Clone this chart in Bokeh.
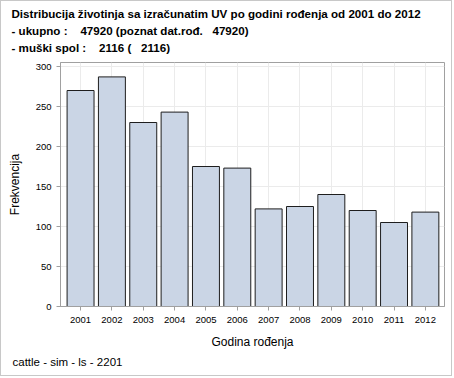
from bokeh.plotting import figure
from bokeh.models import Title, FixedTicker, Range1d
from bokeh.embed import file_html
from bokeh.resources import INLINE

years = [2001, 2002, 2003, 2004, 2005, 2006, 2007, 2008, 2009, 2010, 2011, 2012]
counts = [270, 287, 230, 243, 175, 173, 122, 125, 140, 120, 105, 118]
y_ticks = [0, 50, 100, 150, 200, 250, 300]
title_lines = [
    "Distribucija životinja sa izračunatim UV po godini rođenja od 2001 do 2012",
    "- ukupno :\u00a0\u00a0\u00a0\u00a047920 (poznat dat.rođ.\u00a0\u00a0\u00a047920)",
    "- muški spol :\u00a0\u00a0\u00a0\u00a02116 (\u00a0\u00a0\u00a02116)",
]
footnote = "cattle - sim - ls - 2201"
x_label = "Godina rođenja"
y_label = "Frekvencija"

FONT = "Liberation Sans"

p = figure(width=452, height=376, output_backend="svg", toolbar_location=None,
           x_range=Range1d(2000.36, 2012.61), y_range=Range1d(0, 305),
           min_border_left=59, min_border_right=9, min_border_top=61, min_border_bottom=71)
p.styles = {"border": "1px solid #c8c8c8"}
p.background_fill_color = "white"
p.border_fill_color = "white"
p.outline_line_color = "#a0a0a0"

p.vbar(x=years, top=counts, width=0.86, fill_color="#cad5e5",
       line_color="#1e1e1e", line_width=1)

p.xaxis.ticker = FixedTicker(ticks=years)
p.yaxis.ticker = FixedTicker(ticks=y_ticks)
for ax in (p.xaxis, p.yaxis):
    ax.axis_line_color = "#a0a0a0"
    ax.major_tick_line_color = "#a0a0a0"
    ax.minor_tick_line_color = None
    ax.major_tick_in = 0
    ax.major_tick_out = 4
    ax.major_label_text_font = FONT
    ax.major_label_text_font_size = "9.5px"
    ax.major_label_text_color = "black"
    ax.axis_label_text_font = FONT
    ax.axis_label_text_font_size = "12px"
    ax.axis_label_text_font_style = "normal"
    ax.axis_label_text_color = "black"
    ax.major_label_standoff = 5

p.xaxis.major_label_standoff = 6
p.xaxis.axis_label = x_label
p.yaxis.axis_label = y_label
p.xaxis.axis_label_standoff = 9
p.yaxis.axis_label_standoff = 11

p.xgrid.ticker = FixedTicker(ticks=years)
p.ygrid.ticker = FixedTicker(ticks=y_ticks)
p.xgrid.grid_line_color = "#ebebeb"
p.ygrid.grid_line_color = "#ebebeb"

# small empty spacer between the title block and the frame
p.add_layout(Title(text="\u00a0", text_font_size="5px", standoff=0,
                   text_font=FONT), "above")
# stacked titles: the last one added sits on top
for txt in reversed(title_lines):
    p.add_layout(Title(text=txt, align="left", offset=-49, standoff=2,
                       text_font=FONT, text_font_size="11.6px", text_font_style="bold",
                       text_color="black"), "above")

p.add_layout(Title(text=footnote, align="left", offset=-48, standoff=5,
                   text_font=FONT, text_font_size="11.5px", text_font_style="normal",
                   text_color="black"), "below")

open("out.html", "w").write(file_html(p, INLINE))
